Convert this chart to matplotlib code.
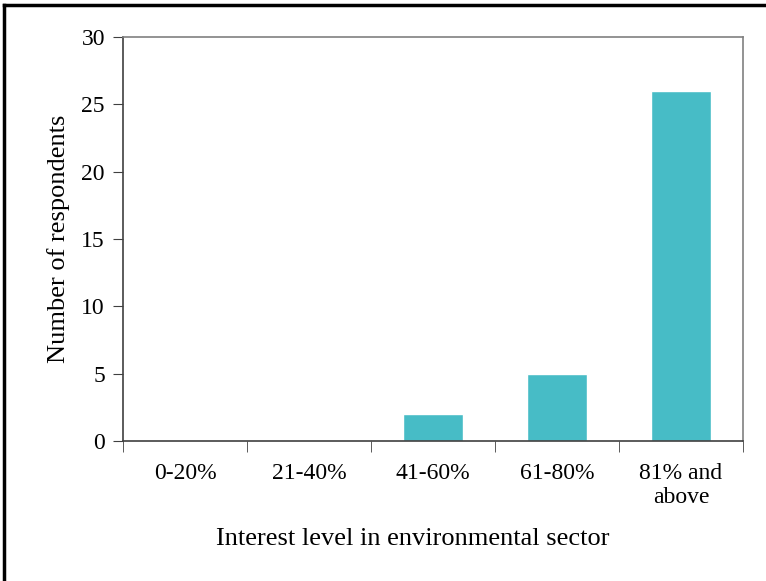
import matplotlib.pyplot as plt
from matplotlib.lines import Line2D
import numpy as np

# interest level categories and respondent counts
categories = ['0-20%', '21-40%', '41-60%', '61-80%', '81% and\nabove']
respondents = [0, 0, 2, 5, 26]

BAR_COLOR = '#47bcc6'

plt.rcParams['font.family'] = ['Liberation Serif', 'DejaVu Serif']

fig = plt.figure(figsize=(7.66, 5.81), dpi=100)
ax = fig.add_axes([123/766, 1 - 441/581, 620/766, 404/581])

x = np.arange(len(categories))
ax.bar(x, respondents, width=0.48, color=BAR_COLOR, edgecolor='white', linewidth=1)

ax.set_xlim(-0.5, len(categories) - 0.5)
ax.set_ylim(0, 30)
ax.set_yticks(range(0, 31, 5))

# labels at centers, tick marks at the category boundaries
ax.set_xticks(x)
ax.set_xticklabels(categories, fontsize=17, va='top', linespacing=1.2)
ax.set_xticks(np.arange(-0.5, len(categories), 1), minor=True)
ax.tick_params(axis='x', which='major', length=0, pad=16)
ax.tick_params(axis='x', which='minor', length=8, direction='out', color='#404040')
ax.tick_params(axis='y', length=7, direction='out', color='#404040', labelsize=17, pad=6)

for s in ['left', 'bottom']:
    ax.spines[s].set_color('#404040')
    ax.spines[s].set_linewidth(1.2)
for s in ['top', 'right']:
    ax.spines[s].set_color('#808080')
    ax.spines[s].set_linewidth(1.2)

ax.set_xlabel('Interest level in environmental sector', fontsize=19, labelpad=14, x=0.468)
ax.set_ylabel('Number of respondents', fontsize=19, labelpad=8)

# outer frame (only left and top edges visible)
fig.add_artist(Line2D([4/766, 4/766], [0, 1 - 5/581], transform=fig.transFigure, color='black', linewidth=2.5))
fig.add_artist(Line2D([4/766, 1], [1 - 5/581, 1 - 5/581], transform=fig.transFigure, color='black', linewidth=2.5))

fig.savefig('out.png', dpi=100)
plt.close()
